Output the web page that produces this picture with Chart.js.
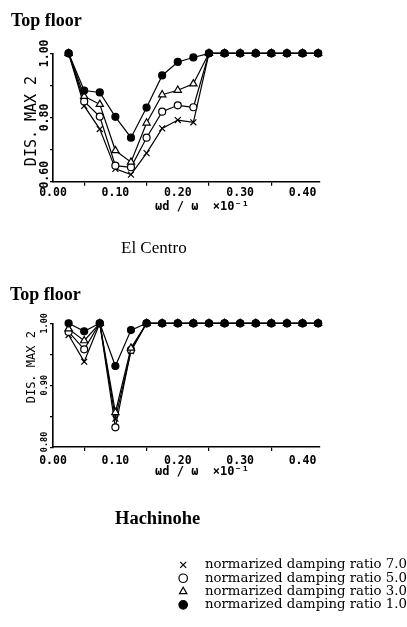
<!DOCTYPE html>
<html>
<head>
<meta charset="utf-8">
<script src="https://cdn.jsdelivr.net/npm/chart.js@4.4.1/dist/chart.umd.min.js"></script>
<style>
  html, body { margin: 0; padding: 0; background: #fff; }
  body { width: 407px; height: 627px; position: relative; overflow: hidden; }
  .box { position: absolute; left: 0; width: 407px; }
  .txt { position: absolute; white-space: nowrap; line-height: 1; color: #000; z-index: 2; }
</style>
</head>
<body>
<div class="txt" style="left:11px;top:10px;font:bold 18px 'Liberation Serif'">Top floor</div>
<div class="box" style="top:0;height:280px"><canvas id="c1"></canvas></div>
<div class="txt" style="left:121px;top:237.5px;font:17px 'Liberation Serif'">El Centro</div>
<div class="txt" style="left:10px;top:283.5px;font:bold 18px 'Liberation Serif'">Top floor</div>
<div class="box" style="top:280px;height:347px"><canvas id="c2"></canvas></div>
<div class="txt" style="left:115px;top:507.8px;font:bold 18.5px 'Liberation Serif'">Hachinohe</div>
<script>
// ---------- data ----------
const xValues = [0.025, 0.05, 0.075, 0.10, 0.125, 0.15, 0.175, 0.20, 0.225, 0.25, 0.275, 0.30, 0.325, 0.35, 0.375, 0.40, 0.425];
const seriesNames = ['normarized damping ratio 1.0', 'normarized damping ratio 3.0', 'normarized damping ratio 5.0', 'normarized damping ratio 7.0'];

const elCentroR1 = [1.000, 0.884, 0.878, 0.802, 0.737, 0.831, 0.931, 0.973, 0.987, 1.000, 1.000, 1.000, 1.000, 1.000, 1.000, 1.000, 1.000];
const elCentroR3 = [1.000, 0.866, 0.841, 0.697, 0.661, 0.783, 0.871, 0.885, 0.905, 1.000, 1.000, 1.000, 1.000, 1.000, 1.000, 1.000, 1.000];
const elCentroR5 = [1.000, 0.850, 0.803, 0.650, 0.645, 0.737, 0.818, 0.838, 0.832, 1.000, 1.000, 1.000, 1.000, 1.000, 1.000, 1.000, 1.000];
const elCentroR7 = [1.000, 0.836, 0.764, 0.640, 0.622, 0.689, 0.766, 0.792, 0.785, 1.000, 1.000, 1.000, 1.000, 1.000, 1.000, 1.000, 1.000];

const hachinoheR1 = [1.000, 0.987, 1.000, 0.931, 0.989, 1.000, 1.000, 1.000, 1.000, 1.000, 1.000, 1.000, 1.000, 1.000, 1.000, 1.000, 1.000];
const hachinoheR3 = [0.991, 0.972, 1.000, 0.856, 0.960, 1.000, 1.000, 1.000, 1.000, 1.000, 1.000, 1.000, 1.000, 1.000, 1.000, 1.000, 1.000];
const hachinoheR5 = [0.986, 0.958, 1.000, 0.832, 0.957, 1.000, 1.000, 1.000, 1.000, 1.000, 1.000, 1.000, 1.000, 1.000, 1.000, 1.000, 1.000];
const hachinoheR7 = [0.981, 0.938, 1.000, 0.846, 0.955, 1.000, 1.000, 1.000, 1.000, 1.000, 1.000, 1.000, 1.000, 1.000, 1.000, 1.000, 1.000];

const xTickValues = [0, 0.05, 0.10, 0.15, 0.20, 0.25, 0.30, 0.35, 0.40];
const xTickLabels = ['0.00', '', '0.10', '', '0.20', '', '0.30', '', '0.40'];
const yTickValuesTop = [0.6, 0.7, 0.8, 0.9, 1.0];
const yTickLabelsTop = ['  0.60', '', '0.80', '', '1.00'];
const yTickValuesBottom = [0.8, 0.85, 0.9, 0.95, 1.0];
const yTickLabelsBottom = ['  0.80', '', '0.90', '', '1.00'];

const xTitle = 'ωd / ω  ×10⁻¹';
const yTitle = 'DIS. MAX 2';

// ---------- styles ----------
const markerStyles = [
  { pointStyle: 'circle',   radius: 3.5, bg: '#000' },
  { pointStyle: 'triangle', radius: 4.2, bg: '#fff' },
  { pointStyle: 'circle',   radius: 3.5, bg: '#fff' },
  { pointStyle: 'crossRot', radius: 4.2, bg: '#fff' }
];

function makeDatasets(series) {
  return series.map((vals, i) => ({
    label: seriesNames[i],
    data: vals.map((v, j) => ({ x: xValues[j], y: v })),
    borderColor: '#000',
    backgroundColor: markerStyles[i].bg,
    borderWidth: 1.2,
    pointStyle: markerStyles[i].pointStyle,
    pointRadius: markerStyles[i].radius,
    pointBorderWidth: 1.2,
    pointBackgroundColor: markerStyles[i].bg,
    pointBorderColor: '#000',
    tension: 0,
    clip: false
  }));
}

const axisTitlePlugin = {
  id: 'axisTitles',
  afterDraw(chart, args, o) {
    const { ctx, chartArea: a } = chart;
    ctx.save();
    ctx.fillStyle = '#000';
    ctx.textAlign = 'center';
    ctx.textBaseline = 'middle';
    ctx.font = o.xFont;
    ctx.fillText(o.xText, a.left + o.xDx, a.bottom + o.xDy);
    ctx.translate(o.yX, (a.top + a.bottom) / 2 + o.yDy);
    ctx.rotate(-Math.PI / 2);
    ctx.font = o.yFont;
    ctx.fillText(o.yText, 0, 0);
    ctx.restore();
  }
};

Chart.defaults.font.family = 'DejaVu Sans Mono';
Chart.defaults.color = '#000';

function makeChart(id, series, cfg) {
  return new Chart(document.getElementById(id), {
    type: 'line',
    data: { datasets: makeDatasets(series) },
    plugins: [axisTitlePlugin],
    options: {
      responsive: true,
      maintainAspectRatio: false,
      devicePixelRatio: 1,
      animation: false,
      events: [],
      layout: { padding: { top: cfg.padTop, left: 0, right: 0, bottom: cfg.padBottom } },
      plugins: {
        tooltip: { enabled: false },
        title: { display: false },
        legend: {
          display: cfg.legend,
          position: 'bottom',
          align: 'end',
          reverse: true,
          labels: {
            usePointStyle: true,
            boxHeight: 6,
            padding: 0,
            color: '#000',
            font: { family: 'DejaVu Serif', size: 13.3 },
            generateLabels(chart) {
              return Chart.defaults.plugins.legend.labels.generateLabels(chart)
                .map(l => Object.assign({}, l, { text: '  ' + l.text }));
            }
          }
        },
        axisTitles: {
          xText: xTitle, xFont: 'bold 12px "DejaVu Sans Mono"', xDx: 149, xDy: 25,
          yText: yTitle, yFont: cfg.yTitleFont, yX: 32, yDy: cfg.yTitleDy
        }
      },
      scales: {
        x: {
          type: 'linear',
          position: 'bottom',
          min: 0,
          max: 0.428,
          afterBuildTicks(s) { s.ticks = xTickValues.map(v => ({ value: v })); },
          afterFit(s) { s.height = cfg.xHeight; },
          border: { display: true, color: '#000', width: 1.6 },
          grid: {
            display: true, drawOnChartArea: false, drawTicks: true, tickLength: 4,
            color: c => (c.index % 2 ? '#000' : 'rgba(0,0,0,0)'), lineWidth: 1.2
          },
          ticks: {
            autoSkip: false, maxRotation: 0, minRotation: 0, padding: cfg.xTickPad,
            font: { family: 'DejaVu Sans Mono', size: 11.5, weight: 'bold' },
            callback: (v, i) => xTickLabels[i]
          }
        },
        y: {
          type: 'linear',
          position: 'left',
          min: cfg.yMin,
          max: 1.0,
          afterBuildTicks(s) { s.ticks = cfg.yTicks.map(v => ({ value: v })); },
          afterFit(s) { s.width = 53; },
          border: { display: true, color: '#000', width: 1.6 },
          grid: { display: true, drawOnChartArea: false, drawTicks: true, tickLength: 3, color: '#000', lineWidth: 1.2 },
          ticks: {
            autoSkip: false, minRotation: 90, maxRotation: 90, crossAlign: 'center', padding: cfg.yTickPad,
            font: { family: 'DejaVu Sans Mono', size: cfg.yTickSize, weight: 'bold' },
            callback: (v, i) => cfg.yLabels[i]
          }
        },
        yR: {
          type: 'linear',
          position: 'right',
          display: true,
          afterFit(s) { s.width = 87; },
          border: { display: false },
          grid: { display: false, drawTicks: false },
          ticks: { display: false }
        }
      }
    }
  });
}

makeChart('c1', [elCentroR1, elCentroR3, elCentroR5, elCentroR7], {
  padTop: 53.3, padBottom: 0, xHeight: 98.3, legend: false, xTickPad: 0,
  yMin: 0.6, yTicks: yTickValuesTop, yLabels: yTickLabelsTop, yTickSize: 11.5, yTickPad: -15.8,
  yTitleFont: '15px "DejaVu Sans Mono"', yTitleDy: 3.5
});

makeChart('c2', [hachinoheR1, hachinoheR3, hachinoheR5, hachinoheR7], {
  padTop: 43.3, padBottom: 5.5, xHeight: 111.2, legend: true, xTickPad: 3,
  yMin: 0.8, yTicks: yTickValuesBottom, yLabels: yTickLabelsBottom, yTickSize: 8.5, yTickPad: -10.4,
  yTitleFont: '12px "DejaVu Sans Mono"', yTitleDy: -18
});
</script>
</body>
</html>
